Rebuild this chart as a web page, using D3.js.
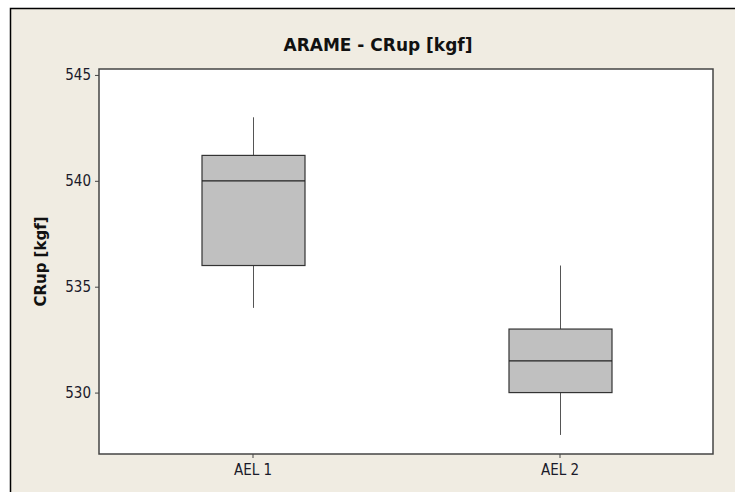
<!DOCTYPE html>
<html><head><meta charset="utf-8">
<script src="https://cdn.jsdelivr.net/npm/d3@7"></script>
<style>body{margin:0;background:#fff}svg{display:block}</style>
</head><body>
<svg id="c" width="735" height="492"></svg>
<script>
const categories = ["AEL 1", "AEL 2"];
const whiskerLow  = [534, 528];
const q1          = [536, 530];
const median      = [540, 531.5];
const q3          = [541.2, 533];
const whiskerHigh = [543, 536];
const yTicks = [530, 535, 540, 545];
const title = "ARAME - CRup [kgf]";
const yLabel = "CRup [kgf]";

const svg = d3.select("#c");
const W = 735, H = 492;
const font = "'DejaVu Sans Condensed','DejaVu Sans',sans-serif";
const boldFont = "'DejaVu Sans',sans-serif";
// outer frame
svg.append("rect").attr("x",10.5).attr("y",8.5).attr("width",W).attr("height",H)
  .attr("fill","#F0ECE2").attr("stroke","#000").attr("stroke-width",1.5);

const L = 99, R = 713, T = 69, B = 454;
const y = d3.scaleLinear().domain([527.1, 545.28]).range([B, T]);
const x = d3.scalePoint().domain(categories).range([L, R]).padding(0.5);

svg.append("rect").attr("x",L).attr("y",T).attr("width",R-L).attr("height",B-T)
  .attr("fill","#fff");

const data = categories.map((c,i)=>({c, lo:whiskerLow[i], q1:q1[i], med:median[i], q3:q3[i], hi:whiskerHigh[i]}));
const bw = 103;
const g = svg.append("g");
data.forEach(d=>{
  const cx = Math.round(x(d.c))+0.5;
  g.append("line").attr("x1",cx).attr("x2",cx).attr("y1",y(d.hi)).attr("y2",y(d.q3)).attr("stroke","#555").attr("stroke-width",1);
  g.append("line").attr("x1",cx).attr("x2",cx).attr("y1",y(d.q1)).attr("y2",y(d.lo)).attr("stroke","#555").attr("stroke-width",1);
  g.append("rect").attr("x",cx-bw/2).attr("y",y(d.q3)).attr("width",bw).attr("height",y(d.q1)-y(d.q3))
    .attr("fill","#C0C0C0").attr("stroke","#333").attr("stroke-width",1.2);
  g.append("line").attr("x1",cx-bw/2).attr("x2",cx+bw/2).attr("y1",y(d.med)).attr("y2",y(d.med)).attr("stroke","#222").attr("stroke-width",1.2);
});

svg.append("rect").attr("x",L).attr("y",T).attr("width",R-L).attr("height",B-T)
  .attr("fill","none").attr("stroke","#444").attr("stroke-width",1.5);

const yAxis = svg.append("g").attr("transform",`translate(${L},0)`)
  .call(d3.axisLeft(y).tickValues(yTicks).tickSize(4).tickPadding(4));
const xAxis = svg.append("g").attr("transform",`translate(0,${B})`)
  .call(d3.axisBottom(x).tickSize(4).tickPadding(6));
[yAxis,xAxis].forEach(a=>{
  a.select(".domain").remove();
  a.selectAll(".tick line").attr("stroke","#444");
  a.selectAll("text").attr("fill","#1a1a2a").style("font-family",font).style("font-size","15px");
});

svg.append("text").attr("x",378).attr("y",51).attr("text-anchor","middle")
  .style("font-family",boldFont).style("font-weight","bold").style("font-size","17px").attr("fill","#111").text(title);

svg.append("text").attr("transform",`translate(46,${(T+B)/2}) rotate(-90)`).attr("text-anchor","middle")
  .style("font-family",boldFont).style("font-weight","bold").style("font-size","15px").attr("fill","#111").text(yLabel);
</script>
</body></html>
